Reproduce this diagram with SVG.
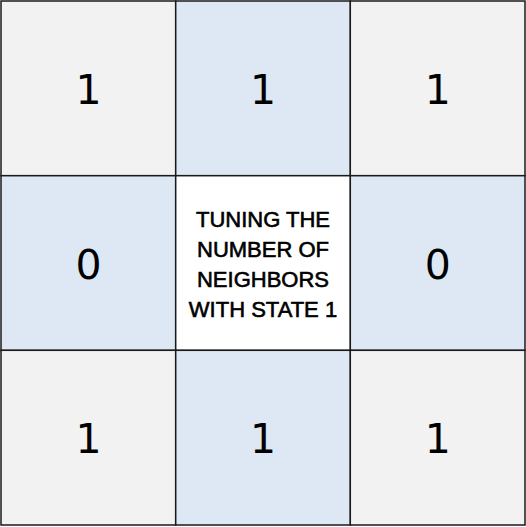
<svg xmlns="http://www.w3.org/2000/svg" width="526" height="527" viewBox="0 0 526 527">
<style>
.c{stroke:#1a1a1a;stroke-width:1.5}
.g{fill:#f2f2f2}
.b{fill:#dde8f4}
.w{fill:#ffffff}
.d{font-family:"DejaVu Sans",sans-serif;font-size:41px;fill:#000;text-anchor:middle}
.t{font-family:"Liberation Sans",Arial,sans-serif;font-size:22px;fill:#000;stroke:#000;stroke-width:0.6;text-anchor:middle}
</style>
<rect width="526" height="527" fill="#ffffff"/>
<g id="cell-0-0"><rect class="c g" x="1" y="1" width="174.7" height="174.7"/><text class="d" x="88.5" y="104">1</text></g>
<g id="cell-0-1"><rect class="c b" x="175.7" y="1" width="174.7" height="174.7"/><text class="d" x="263" y="104">1</text></g>
<g id="cell-0-2"><rect class="c g" x="350.3" y="1" width="174.7" height="174.7"/><text class="d" x="437.7" y="104">1</text></g>
<g id="cell-1-0"><rect class="c b" x="1" y="175.7" width="174.7" height="174.7"/><text class="d" x="88.5" y="279">0</text></g>
<g id="cell-1-1"><rect class="c w" x="175.7" y="175.7" width="174.7" height="174.7"/>
<text class="t" x="263" y="226.7">TUNING THE</text>
<text class="t" x="263" y="256.7">NUMBER OF</text>
<text class="t" x="263" y="286.7">NEIGHBORS</text>
<text class="t" x="263" y="316.7">WITH STATE 1</text></g>
<g id="cell-1-2"><rect class="c b" x="350.3" y="175.7" width="174.7" height="174.7"/><text class="d" x="437.7" y="279">0</text></g>
<g id="cell-2-0"><rect class="c g" x="1" y="350.3" width="174.7" height="174.7"/><text class="d" x="88.5" y="453">1</text></g>
<g id="cell-2-1"><rect class="c b" x="175.7" y="350.3" width="174.7" height="174.7"/><text class="d" x="263" y="453">1</text></g>
<g id="cell-2-2"><rect class="c g" x="350.3" y="350.3" width="174.7" height="174.7"/><text class="d" x="437.7" y="453">1</text></g>
<g id="connectors"></g>
</svg>
